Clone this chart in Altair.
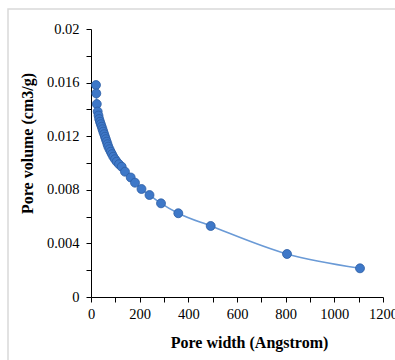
import altair as alt
import pandas as pd

pore_width = [20.5, 21.8, 23.8, 27.5, 30.8, 33.7, 37.0, 40.3, 44.0, 47.3, 50.5,
              54.2, 57.5, 60.8, 64.5, 67.8, 71.1, 76.0, 81.0, 86.3, 91.6, 98.6,
              105.6, 115.1, 126.2, 139.7, 163.2, 180.8, 207.5, 240.4, 287.7,
              358.8, 491.9, 805.5, 1105.5]
pore_volume = [0.01582, 0.01519, 0.01440, 0.01384, 0.01354, 0.01328, 0.01308,
               0.01290, 0.01271, 0.01252, 0.01234, 0.01215, 0.01196, 0.01178,
               0.01159, 0.01140, 0.01122, 0.01103, 0.01084, 0.01066, 0.01047,
               0.01028, 0.01010, 0.00991, 0.00972, 0.00935, 0.00892, 0.00853,
               0.00806, 0.00761, 0.00699, 0.00625, 0.00530, 0.00321, 0.00214]

x_ticks = [0, 100, 200, 300, 400, 500, 600, 700, 800, 900, 1000, 1100, 1200]
y_ticks = [0, 0.002, 0.004, 0.006, 0.008, 0.010, 0.012, 0.014, 0.016, 0.018, 0.020]

df = pd.DataFrame({"w": pore_width, "v": pore_volume})

FONT = "Liberation Serif"

x = alt.X("w:Q", scale=alt.Scale(domain=[0, 1200], nice=False),
          axis=alt.Axis(values=x_ticks, title="Pore width (Angstrom)",
                        labelExpr="datum.value % 200 == 0 ? datum.label : ''",
                        format="d", grid=False, domainColor="#000", tickColor="#000",
                        tickSize=5, labelPadding=5, labelFont=FONT, labelFontSize=14.5,
                        labelColor="#000", titleFont=FONT, titleFontSize=16,
                        titleFontWeight="bold", titleColor="#000",
                        titleX=158, titleY=45, titleBaseline="middle",
                        titleAlign="center", labelFlush=False))
y = alt.Y("v:Q", scale=alt.Scale(domain=[0, 0.02], nice=False),
          axis=alt.Axis(values=y_ticks, title="Pore volume (cm3/g)",
                        labelExpr="(round(datum.value*1000) % 4 == 0) ? format(datum.value, '.3~f') : ''",
                        grid=False, domainColor="#000", tickColor="#000",
                        tickSize=5, labelPadding=7, labelFont=FONT, labelFontSize=14.5,
                        labelColor="#000", titleFont=FONT, titleFontSize=16,
                        titleFontWeight="bold", titleColor="#000",
                        titleX=-64, titleY=114, titleBaseline="middle",
                        titleAlign="center", titleAngle=-90, labelFlush=False))

border = alt.Chart(pd.DataFrame({"a": [0]})).mark_rect(
    fill=None, stroke="#d9d9d9", strokeWidth=1.5
).encode(x=alt.value(-83), x2=alt.value(310), y=alt.value(-20), y2=alt.value(68 + 268))

line = alt.Chart(df).mark_line(color="#6a9ad6", strokeWidth=1.6,
                               interpolate="monotone").encode(x=x, y=y)
pts = alt.Chart(df).mark_circle(size=80, color="#3e78c8", opacity=1,
                                stroke="#2c5da3", strokeWidth=0.8).encode(x=x, y=y)

chart = alt.layer(border, line, pts).properties(
    width=292, height=268,
    autosize=alt.AutoSizeParams(type="none"),
    padding={"left": 91, "top": 29, "right": 12, "bottom": 63},
    background="white",
).configure_view(stroke=None)

chart.save("out.html", embed_options={"renderer": "svg", "actions": False})
